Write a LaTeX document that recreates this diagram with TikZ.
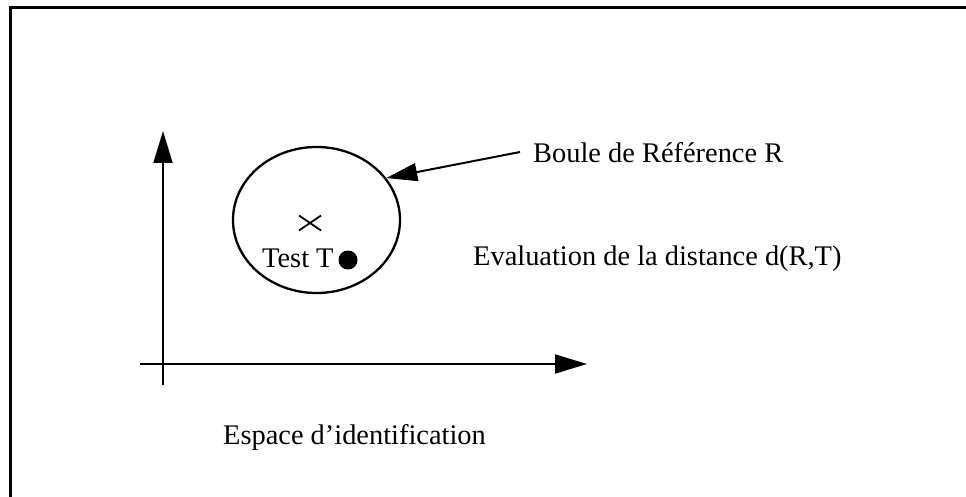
\documentclass[tikz,border=0pt]{standalone}
\usepackage{fontspec}
\setmainfont{Liberation Serif}
\usetikzlibrary{arrows.meta,shapes.geometric}
\begin{document}
\begin{tikzpicture}[x=1pt,y=-1pt,
  axis/.style={line width=2pt,-{Triangle[length=32pt,width=19pt]}},
  pointer/.style={line width=2pt,-{Triangle[length=31pt,width=18pt]}},
  txt/.style={font=\fontsize{28.4}{34}\selectfont,inner sep=0pt,anchor=base west},
  ball/.style={ellipse,draw,line width=2.3pt,inner sep=0pt,
    minimum width=167pt,minimum height=146pt},
  dotmark/.style={circle,fill=black,inner sep=0pt,minimum size=19pt}]
\useasboundingbox (0,0) rectangle (966,497);

% frame: only the top and left edges fall inside the page
\draw[line width=3pt] (966,8) -- (10.5,8) -- (10.5,497);

% axes of the identification space
\coordinate (xl) at (140,364);
\coordinate (xr) at (587,364);
\coordinate (yb) at (163,385);
\coordinate (yt) at (163,131);
\draw[axis] (xl) -- (xr);
\draw[axis] (yb) -- (yt);

% reference ball with its centre and the test point
\node[ball] (ball) at (316.5,220) {};
\coordinate (ctr) at (310,223);
\draw[line width=1.8pt] (ctr) +(-11,-7.5) -- +(11,7.5)
                         (ctr) +(-11,7.5) -- +(11,-7.5);
\node[txt] (test) at (262,267) {Test T};
\node[dotmark] (dot) at (348,260) {};

% labels
\node[txt] (boule) at (533,163) {Boule de Référence R};
\node[txt] (eval) at (473,265) {Evaluation de la distance d(R,T)};
\node[txt] (espace) at (223,444) {Espace d’identification};

% pointer from the label to the ball
\coordinate (pstart) at ([shift={(-13,-11)}]boule.base west);
\draw[pointer] (pstart) -- (ball.31);
\end{tikzpicture}
\end{document}
